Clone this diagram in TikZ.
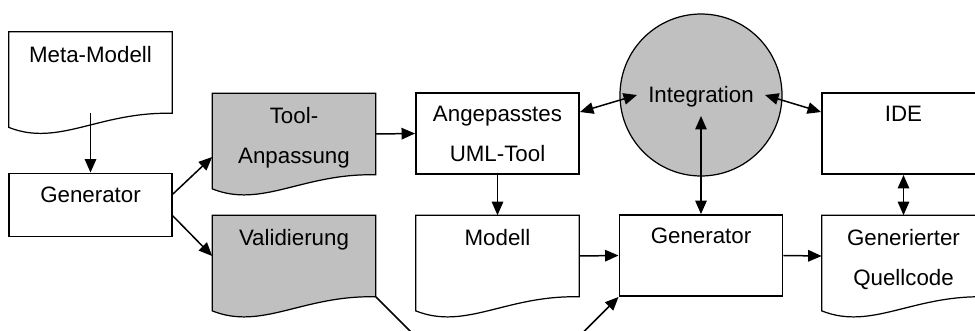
\documentclass[tikz,border=0pt]{standalone}
\usepackage{fontspec}
\setmainfont{Liberation Sans}
\usetikzlibrary{arrows.meta}
\definecolor{docgrey}{RGB}{192,192,192}

\newcommand\docframe[2][white]{%
  \draw[docline, fill=#1] (#2.north west) -- (#2.north east) -- (#2.south east)
    .. controls ([xshift=-1.46cm,yshift=0.04cm]#2.south east) and ([xshift=1cm,yshift=-0.68cm]#2.south west)
    .. ([yshift=-0.28cm]#2.south west) -- cycle;}

\begin{document}
\begin{tikzpicture}[x=0.02cm, y=-0.02cm,
    every node/.style={inner sep=0pt},
    box/.style={draw, line width=1.1pt, minimum width=3.26cm, minimum height=1.62cm},
    docnode/.style={minimum width=3.26cm, minimum height=1.62cm},
    docline/.style={line width=0.7pt},
    lbl/.style={anchor=north, align=center, font=\fontsize{12.7}{22.4}\selectfont},
    arr/.style={line width=0.85pt, -{Triangle[length=0.27cm,width=0.23cm]}},
    darr/.style={line width=0.85pt, {Triangle[length=0.27cm,width=0.23cm]}-{Triangle[length=0.27cm,width=0.23cm]}}]
    \useasboundingbox (0,0) rectangle (975,331);
    \clip (0,0) rectangle (975,331);

    \node[docnode] (meta) at (90.5,72.5) {};
    \docframe{meta}
    \node[lbl] at ([yshift=-0.28cm]meta.north) {Meta-Modell};

    \node[box, minimum height=1.26cm] (genL) at (90.5,205) {};
    \node[lbl] at ([yshift=-0.28cm]genL.north) {Generator};

    \node[docnode] (tool) at (294,134) {};
    \docframe[docgrey]{tool}
    \node[lbl] at ([yshift=-0.28cm]tool.north) {Tool-\\Anpassung};

    \node[docnode] (valid) at (294,256) {};
    \docframe[docgrey]{valid}
    \node[lbl] at ([yshift=-0.28cm]valid.north) {Validierung};

    \node[box] (uml) at (497.5,133.5) {};
    \node[lbl] at ([yshift=-0.28cm]uml.north) {Angepasstes\\UML-Tool};

    \node[docnode] (modell) at (497.5,256) {};
    \docframe{modell}
    \node[lbl] at ([yshift=-0.28cm]modell.north) {Modell};

    \node[draw, circle, line width=0.7pt, fill=docgrey, minimum size=3.24cm] (integ) at (701,95) {};
    \node[lbl, anchor=center] at ([yshift=-0.04cm]integ.center) {Integration};

    \node[box] (genC) at (701,255.5) {};
    \node[lbl] at ([yshift=-0.28cm]genC.north) {Generator};

    \node[box] (ide) at (903.5,133.5) {};
    \node[lbl] at ([yshift=-0.28cm]ide.north) {IDE};

    \node[docnode] (quell) at (903.5,256) {};
    \docframe{quell}
    \node[lbl] at ([yshift=-0.28cm]quell.north) {Generierter\\Quellcode};

    \coordinate (intL) at ([xshift=-1.28cm]integ.center);
    \coordinate (intR) at ([xshift=1.28cm]integ.center);
    \coordinate (intB) at ([yshift=-0.42cm]integ.center);
    \coordinate (lowL) at ([shift={(1.1cm,-1.1cm)}]valid.south east);
    \coordinate (lowR) at ([shift={(-1.1cm,-1.1cm)}]genC.south west);

    \draw[arr] (meta.south) -- (genL.north);
    \draw[arr] ([yshift=0.22cm]genL.east) -- ([yshift=-0.46cm]tool.west);
    \draw[arr] ([yshift=-0.22cm]genL.east) -- (valid.west);
    \draw[arr] (tool.east) -- (uml.west);
    \draw[arr] (uml.south) -- (modell.north);
    \draw[darr] ([yshift=0.43cm]uml.east) -- (intL);
    \draw[darr] (intR) -- ([yshift=0.43cm]ide.west);
    \draw[darr] (intB) -- (genC.north);
    \draw[arr] (modell.east) -- (genC.west);
    \draw[arr] (genC.east) -- (quell.west);
    \draw[darr] (ide.south) -- (quell.north);
    \draw[arr] (valid.south east) -- (lowL) -- (lowR) -- (genC.south west);
\end{tikzpicture}
\end{document}
